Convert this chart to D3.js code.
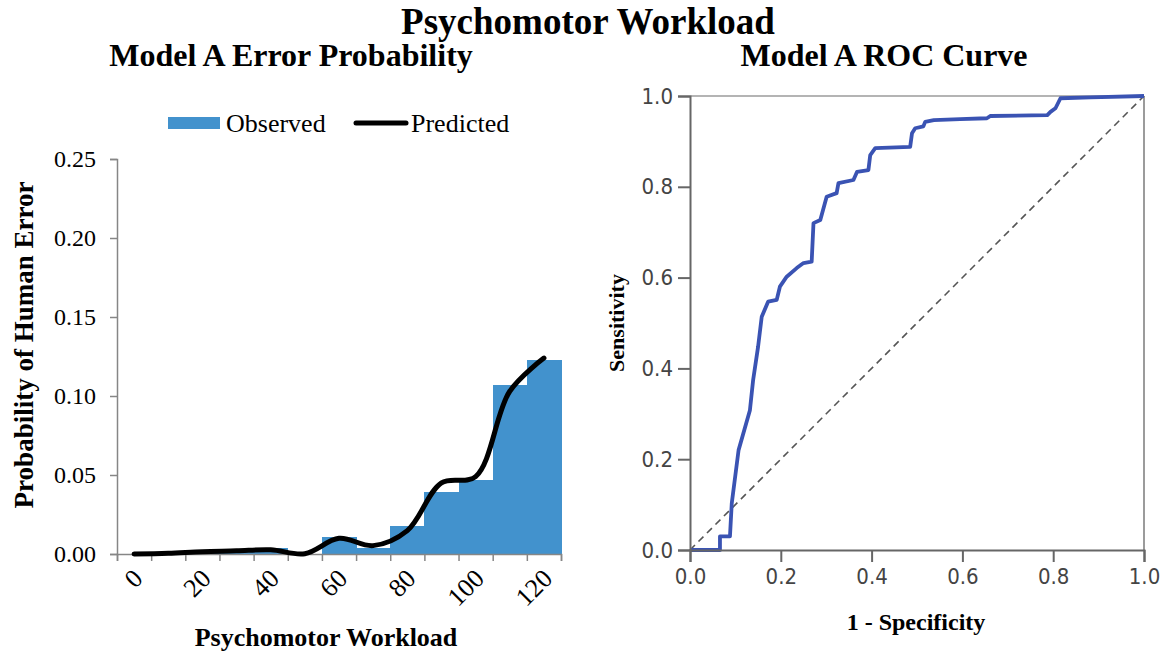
<!DOCTYPE html>
<html>
<head>
<meta charset="utf-8">
<script src="https://cdn.jsdelivr.net/npm/d3@7"></script>
<style>
  body { margin: 0; background: #fff; }
  svg { display: block; }
</style>
</head>
<body>
<svg id="chart" width="1169" height="654"></svg>
<script>
// left panel: observed error rate per workload bin and the predicted curve
var workloadBins = [0, 10, 20, 30, 40, 50, 60, 70, 80, 90, 100, 110, 120];
var observedError = [0, 0, 0.001, 0.001, 0.004, 0, 0.011, 0.004, 0.018, 0.039, 0.047, 0.107, 0.123];
var predictedError = [0, 0.0005, 0.0015, 0.002, 0.0027, 0.0002, 0.0099, 0.0053, 0.0148, 0.045, 0.049, 0.103, 0.124];
var workloadLabels = [0, 20, 40, 60, 80, 100, 120];
var errorTicks = [0, 0.05, 0.10, 0.15, 0.20, 0.25];

// right panel: ROC curve points (1 - specificity, sensitivity)
var rocFpr = [0, 0.066, 0.066, 0.088, 0.092, 0.107, 0.132, 0.139, 0.150, 0.158, 0.172, 0.191, 0.198, 0.213, 0.235, 0.250, 0.268, 0.272, 0.287, 0.301, 0.323, 0.327, 0.360, 0.368, 0.393, 0.397, 0.408, 0.485, 0.489, 0.496, 0.514, 0.518, 0.537, 0.595, 0.654, 0.662, 0.787, 0.794, 0.805, 0.816, 0.882, 1.0];
var rocTpr = [0, 0, 0.030, 0.030, 0.103, 0.220, 0.308, 0.374, 0.448, 0.514, 0.547, 0.551, 0.580, 0.602, 0.621, 0.632, 0.635, 0.720, 0.727, 0.778, 0.786, 0.808, 0.815, 0.833, 0.837, 0.870, 0.885, 0.888, 0.918, 0.929, 0.933, 0.943, 0.947, 0.949, 0.951, 0.956, 0.958, 0.965, 0.973, 0.995, 0.997, 1.0];
var rocTicks = [0, 0.2, 0.4, 0.6, 0.8, 1.0];

var SERIF = "Liberation Serif, Times New Roman, serif";
var svg = d3.select("#chart");

// overall title
svg.append("text")
    .attr("x", 588).attr("y", 34)
    .attr("text-anchor", "middle")
    .style("font-family", SERIF)
    .style("font-size", "37px").style("font-weight", "bold")
    .text("Psychomotor Workload");

// ---------- left: error probability ----------
var xBand = d3.scaleBand().domain(workloadBins).range([117, 561]).padding(0);
var xEdge = d3.scaleLinear().domain([0, workloadBins.length]).range([117, 561]);
var yErr = d3.scaleLinear().domain([0, 0.25]).range([554, 159]);

var left = svg.append("g");

left.append("text")
    .attr("x", 291).attr("y", 66)
    .attr("text-anchor", "middle")
    .style("font-family", SERIF)
    .style("font-size", "32px").style("font-weight", "bold")
    .text("Model A Error Probability");

// bars
left.selectAll(".bar")
    .data(workloadBins)
    .enter().append("rect")
    .attr("class", "bar")
    .attr("x", function(d) { return xBand(d); })
    .attr("width", xBand.bandwidth() + 0.5)
    .attr("y", function(d, i) { return yErr(observedError[i]); })
    .attr("height", function(d, i) { return yErr(0) - yErr(observedError[i]); })
    .attr("fill", "#4292cd")
    .attr("shape-rendering", "crispEdges");

// y axis
var yAxis = left.append("g")
    .attr("transform", "translate(117,0)")
    .call(d3.axisLeft(yErr).tickValues(errorTicks).tickFormat(d3.format(".2f")).tickSize(7).tickPadding(14))
    .attr("font-family", SERIF).attr("font-size", 24);
yAxis.selectAll("text").attr("fill", "#000");

// x axis tick marks at bin edges
var xAxis = left.append("g")
    .attr("transform", "translate(0,554)")
    .call(d3.axisBottom(xEdge).tickValues(d3.range(workloadBins.length + 1)).tickFormat("").tickSize(7));

// x labels every other bin, rotated
var xLab = left.append("g")
    .attr("transform", "translate(0,554)")
    .call(d3.axisBottom(xBand).tickValues(workloadLabels).tickSize(0))
    .attr("font-family", SERIF).attr("font-size", 26);
xLab.select(".domain").remove();
xLab.selectAll("text")
    .attr("fill", "#000")
    .attr("text-anchor", "end")
    .attr("x", 0).attr("y", 0).attr("dy", 0)
    .attr("transform", "translate(10,26) rotate(-45)");

[yAxis, xAxis].forEach(function(a) {
    a.selectAll("path, line").attr("stroke", "#868686").attr("stroke-width", 1.5);
});

// predicted line
var predLine = d3.line()
    .curve(d3.curveCatmullRom.alpha(0.5))
    .x(function(d, i) { return xBand(workloadBins[i]) + xBand.bandwidth() / 2; })
    .y(function(d) { return yErr(d); });

left.append("path")
    .datum(predictedError)
    .attr("d", predLine)
    .attr("fill", "none")
    .attr("stroke", "#000")
    .attr("stroke-width", 5)
    .attr("stroke-linecap", "round");

// legend
var legend = left.append("g").style("font-family", SERIF).style("font-size", "26px");
legend.append("rect").attr("x", 168).attr("y", 117).attr("width", 52).attr("height", 12).attr("fill", "#4292cd");
legend.append("text").attr("x", 226).attr("y", 132).text("Observed");
legend.append("line").attr("x1", 356).attr("x2", 406).attr("y1", 123).attr("y2", 123)
    .attr("stroke", "#000").attr("stroke-width", 5).attr("stroke-linecap", "round");
legend.append("text").attr("x", 411).attr("y", 132).text("Predicted");

// axis titles
left.append("text")
    .attr("transform", "translate(33,345) rotate(-90)")
    .attr("text-anchor", "middle")
    .style("font-family", SERIF)
    .style("font-size", "27px").style("font-weight", "bold")
    .text("Probability of Human Error");

left.append("text")
    .attr("x", 326).attr("y", 646)
    .attr("text-anchor", "middle")
    .style("font-family", SERIF)
    .style("font-size", "26px").style("font-weight", "bold")
    .text("Psychomotor Workload");

// ---------- right: ROC ----------
var xRoc = d3.scaleLinear().domain([0, 1]).range([690, 1144]);
var yRoc = d3.scaleLinear().domain([0, 1]).range([550, 96]);

var right = svg.append("g");

right.append("text")
    .attr("x", 884).attr("y", 66)
    .attr("text-anchor", "middle")
    .style("font-family", SERIF)
    .style("font-size", "32px").style("font-weight", "bold")
    .text("Model A ROC Curve");

// frame: top and right borders
right.append("line")
    .attr("x1", xRoc(0)).attr("x2", xRoc(1)).attr("y1", yRoc(1)).attr("y2", yRoc(1))
    .attr("stroke", "#b4b4b4").attr("stroke-width", 2);
right.append("line")
    .attr("x1", xRoc(1)).attr("x2", xRoc(1)).attr("y1", yRoc(1)).attr("y2", yRoc(0))
    .attr("stroke", "#7a7a7a").attr("stroke-width", 1.5);

// diagonal reference
right.append("path")
    .datum([0, 1])
    .attr("d", d3.line().x(function(d) { return xRoc(d); }).y(function(d) { return yRoc(d); }))
    .attr("stroke", "#555").attr("stroke-width", 1.6)
    .attr("stroke-dasharray", "7,5").attr("fill", "none");

// roc curve
right.append("path")
    .datum(rocFpr)
    .attr("d", d3.line()
        .x(function(d) { return xRoc(d); })
        .y(function(d, i) { return yRoc(rocTpr[i]); }))
    .attr("fill", "none")
    .attr("stroke", "#3a53b3")
    .attr("stroke-width", 3.8)
    .attr("stroke-linejoin", "round");

var rxAxis = right.append("g")
    .attr("transform", "translate(0,550)")
    .call(d3.axisBottom(xRoc).tickValues(rocTicks).tickFormat(d3.format(".1f")).tickSize(12).tickPadding(6));
var ryAxis = right.append("g")
    .attr("transform", "translate(690,0)")
    .call(d3.axisLeft(yRoc).tickValues(rocTicks).tickFormat(d3.format(".1f")).tickSize(12).tickPadding(5));

[rxAxis, ryAxis].forEach(function(a) {
    a.attr("font-family", "DejaVu Sans Condensed, DejaVu Sans, sans-serif").attr("font-size", 22);
    a.selectAll("path, line").attr("stroke", "#666").attr("stroke-width", 2);
    a.selectAll("text").attr("fill", "#444");
});

right.append("text")
    .attr("transform", "translate(624,323) rotate(-90)")
    .attr("text-anchor", "middle")
    .style("font-family", SERIF)
    .style("font-size", "22px").style("font-weight", "bold")
    .text("Sensitivity");

right.append("text")
    .attr("x", 916).attr("y", 630)
    .attr("text-anchor", "middle")
    .style("font-family", SERIF)
    .style("font-size", "24px").style("font-weight", "bold")
    .text("1 - Specificity");
</script>
</body>
</html>
